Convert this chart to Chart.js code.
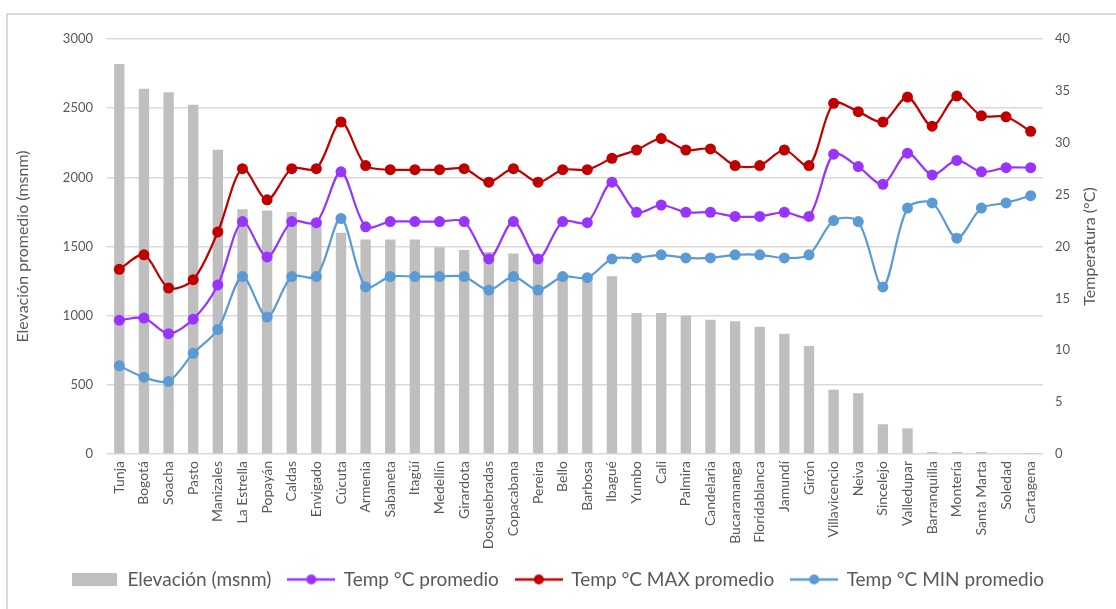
<!DOCTYPE html>
<html lang="es">
<head>
<meta charset="utf-8">
<title>Elevación y temperatura por ciudad</title>
<script src="https://cdn.jsdelivr.net/npm/chart.js@4.4.1/dist/chart.umd.min.js"></script>
<style>
  html, body { margin: 0; padding: 0; background: #fff; overflow: hidden; }
  #frame { position: absolute; left: 6px; top: 13px; width: 1200px; height: 700px; border: 2px solid #d9d9d9; }
  #wrap { position: absolute; left: 0; top: 0; width: 1116px; height: 609px; }
</style>
</head>
<body>
<div id="frame"></div>
<div id="wrap"><canvas id="chart"></canvas></div>
<script>
const cities = ["Tunja", "Bogotá", "Soacha", "Pasto", "Manizales", "La Estrella", "Popayán", "Caldas", "Envigado", "Cúcuta",
  "Armenia", "Sabaneta", "Itagüí", "Medellín", "Girardota", "Dosquebradas", "Copacabana", "Pereira", "Bello", "Barbosa",
  "Ibagué", "Yumbo", "Cali", "Palmira", "Candelaria", "Bucaramanga", "Floridablanca", "Jamundí", "Girón", "Villavicencio",
  "Neiva", "Sincelejo", "Valledupar", "Barranquilla", "Montería", "Santa Marta", "Soledad", "Cartagena"];

const elevacion = [2820, 2640, 2615, 2525, 2200, 1770, 1760, 1750, 1675, 1600,
  1550, 1550, 1550, 1495, 1475, 1460, 1450, 1410, 1300, 1290,
  1285, 1020, 1020, 1000, 970, 960, 920, 870, 780, 465,
  440, 215, 185, 15, 15, 15, 5, 2];

const tempProm = [12.9, 13.1, 11.6, 13.0, 16.3, 22.4, 19.0, 22.4, 22.3, 27.2,
  21.9, 22.4, 22.4, 22.4, 22.4, 18.8, 22.4, 18.8, 22.4, 22.3,
  26.2, 23.3, 24.0, 23.3, 23.3, 22.9, 22.9, 23.3, 22.9, 28.9,
  27.7, 26.0, 29.0, 26.9, 28.3, 27.2, 27.6, 27.6];

const tempMax = [17.8, 19.2, 16.0, 16.8, 21.4, 27.5, 24.5, 27.5, 27.5, 32.0,
  27.8, 27.4, 27.4, 27.4, 27.5, 26.2, 27.5, 26.2, 27.4, 27.4,
  28.5, 29.3, 30.4, 29.3, 29.4, 27.8, 27.8, 29.3, 27.8, 33.8,
  33.0, 32.0, 34.4, 31.6, 34.5, 32.6, 32.5, 31.1];

const tempMin = [8.5, 7.4, 7.0, 9.7, 12.0, 17.1, 13.2, 17.1, 17.1, 22.7,
  16.1, 17.1, 17.1, 17.1, 17.1, 15.8, 17.1, 15.8, 17.1, 17.0,
  18.8, 18.9, 19.2, 18.9, 18.9, 19.2, 19.2, 18.9, 19.2, 22.5,
  22.4, 16.1, 23.7, 24.2, 20.8, 23.7, 24.2, 24.9];

const GRAY = "#bfbfbf", PURPLE = "#9933ff", RED = "#c00000", BLUE = "#5b9bd5";
const TXT = "#595959", GRID = "#d9d9d9";
const FONT = "Lato, 'Noto Sans', sans-serif";
const RIGHT_TITLE = "Temperatura (°C)";

// legend swatches: box for the bars, line + dot for the series
function boxSwatch(color) {
  const c = document.createElement("canvas");
  c.width = 45; c.height = 13;
  const g = c.getContext("2d");
  g.fillStyle = color; g.fillRect(0, 0, 45, 13);
  return c;
}
function lineSwatch(color) {
  const c = document.createElement("canvas");
  c.width = 48; c.height = 12;
  const g = c.getContext("2d");
  g.strokeStyle = color; g.lineWidth = 2.5;
  g.beginPath(); g.moveTo(0, 6); g.lineTo(48, 6); g.stroke();
  g.fillStyle = color;
  g.beginPath(); g.arc(24, 6, 5, 0, Math.PI * 2); g.fill();
  return c;
}
const swatches = [boxSwatch(GRAY), lineSwatch(PURPLE), lineSwatch(RED), lineSwatch(BLUE)];

function lineSet(label, data, color, order) {
  return {
    type: "line", label, data, yAxisID: "yT", order,
    borderColor: color, backgroundColor: color, borderWidth: 2.2,
    pointRadius: 5.5, pointHoverRadius: 6, pointBorderWidth: 0,
    tension: 0.3, fill: false
  };
}

// right axis title reads bottom-to-top, as in the original
const rightTitle = {
  id: "rightTitle",
  afterDraw(chart) {
    const s = chart.scales.yT, ctx = chart.ctx;
    ctx.save();
    ctx.translate(1090, (s.top + s.bottom) / 2);
    ctx.rotate(-Math.PI / 2);
    ctx.fillStyle = TXT;
    ctx.font = "16px " + FONT;
    ctx.textAlign = "center";
    ctx.textBaseline = "middle";
    ctx.fillText(RIGHT_TITLE, 0, 0);
    ctx.restore();
  }
};

new Chart(document.getElementById("chart"), {
  type: "bar",
  data: {
    labels: cities,
    datasets: [
      { label: "Elevación (msnm)", data: elevacion, yAxisID: "yE", order: 10,
        backgroundColor: GRAY, barPercentage: 0.42, categoryPercentage: 1 },
      lineSet("Temp °C promedio", tempProm, PURPLE, 3),
      lineSet("Temp °C MAX promedio", tempMax, RED, 2),
      lineSet("Temp °C MIN promedio", tempMin, BLUE, 1)
    ]
  },
  plugins: [rightTitle],
  options: {
    responsive: true, maintainAspectRatio: false, animation: false,
    layout: { padding: { left: 0, right: 0, top: 39, bottom: 10 } },
    plugins: {
      tooltip: { enabled: false },
      legend: {
        position: "bottom",
        labels: {
          color: TXT, font: { family: FONT, size: 19 }, padding: 17,
          usePointStyle: true, pointStyleWidth: 46,
          sort: (a, b) => a.datasetIndex - b.datasetIndex,
          generateLabels(chart) {
            const items = Chart.defaults.plugins.legend.labels.generateLabels(chart);
            items.forEach(it => { it.pointStyle = swatches[it.datasetIndex]; });
            return items;
          }
        }
      }
    },
    scales: {
      x: {
        grid: { display: false, drawTicks: false },
        border: { display: false },
        ticks: { color: TXT, font: { family: FONT, size: 14 }, maxRotation: 90, minRotation: 90, autoSkip: false, padding: 7 },
        afterFit(s) { s.height = 99; }
      },
      yE: {
        position: "left", min: 0, max: 3000,
        grid: { color: GRID, lineWidth: 1.5, drawTicks: false },
        border: { display: false },
        ticks: { stepSize: 500, color: TXT, font: { family: FONT, size: 13 }, padding: 14, callback: v => String(v) },
        title: { display: true, text: "Elevación promedio (msnm)", color: TXT, font: { family: FONT, size: 16 }, padding: { top: 13 } },
        afterFit(s) { s.width = 107; }
      },
      yT: {
        position: "right", min: 0, max: 40,
        grid: { display: false, drawTicks: false },
        border: { display: false },
        ticks: { stepSize: 5, color: TXT, font: { family: FONT, size: 13 }, padding: 12, callback: v => String(v) },
        afterFit(s) { s.width = 73; }
      }
    }
  }
});
</script>
</body>
</html>
